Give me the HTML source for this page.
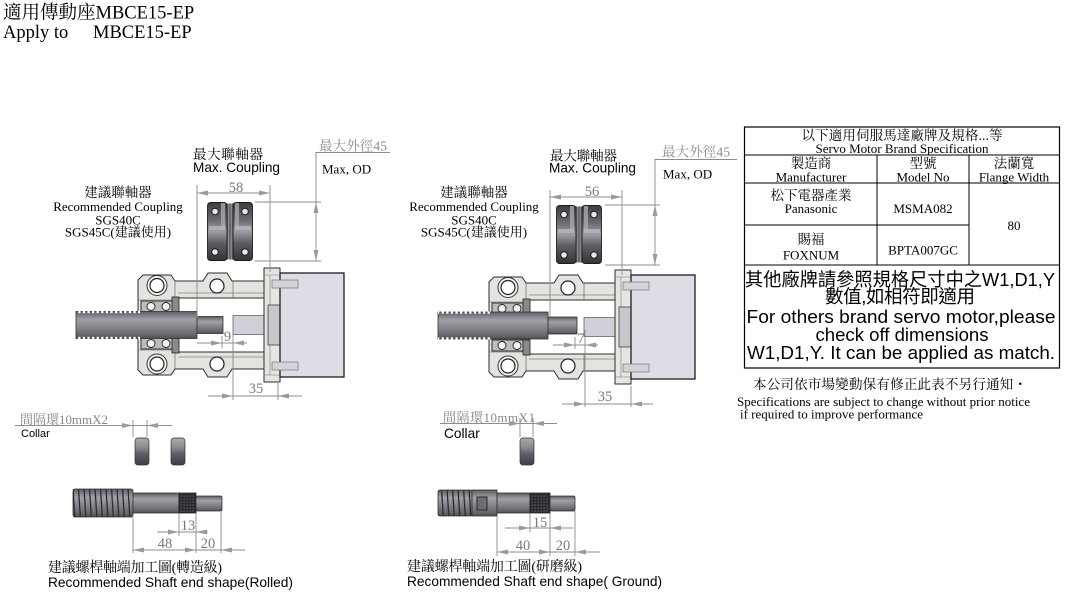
<!DOCTYPE html>
<html><head><meta charset="utf-8">
<style>
html,body{margin:0;padding:0;background:#fff;overflow:hidden}
svg{display:block}
.s{font-family:"Liberation Serif","Noto Serif CJK SC",serif}
.a{font-family:"Liberation Sans","Noto Sans CJK TC",sans-serif}
.d{font-family:"Liberation Serif",serif;fill:#7a7a7a;font-size:14.5px}
.dl{stroke:#8c8c8c;stroke-width:0.9;fill:none}
.ar{fill:#9a9a9a}
</style></head><body>
<svg width="1066" height="601" viewBox="0 0 1066 601" xmlns="http://www.w3.org/2000/svg">
<defs>
<linearGradient id="scr" x1="0" y1="0" x2="0" y2="1">
<stop offset="0" stop-color="#5e5e64"/><stop offset="0.3" stop-color="#a0a0a6"/><stop offset="0.55" stop-color="#88888e"/><stop offset="0.85" stop-color="#68686e"/><stop offset="1" stop-color="#4e4e53"/>
</linearGradient>
<linearGradient id="cpg" x1="0" y1="0" x2="0" y2="1">
<stop offset="0" stop-color="#3c3c41"/><stop offset="0.3" stop-color="#6a6a70"/><stop offset="0.5" stop-color="#9c9ca2"/><stop offset="0.7" stop-color="#5c5c62"/><stop offset="1" stop-color="#333338"/>
</linearGradient>
<linearGradient id="colg" x1="0" y1="0" x2="0" y2="1">
<stop offset="0" stop-color="#a9a9ae"/><stop offset="0.35" stop-color="#8a8a90"/><stop offset="0.6" stop-color="#5d5d63"/><stop offset="1" stop-color="#3f3f44"/>
</linearGradient>
<pattern id="notch" patternUnits="userSpaceOnUse" width="4.6" height="10"><rect x="0" y="0" width="2.3" height="10" fill="#fff"/></pattern>
<pattern id="thr" patternUnits="userSpaceOnUse" width="5.5" height="40"><path d="M1,0 L3.5,40" stroke="#2b2b30" stroke-width="1.3"/></pattern>
<pattern id="kn" patternUnits="userSpaceOnUse" width="3" height="3"><rect width="3" height="3" fill="#2a2a2e"/><rect x="0.5" y="0.5" width="1.2" height="1.2" fill="#6a6a70"/></pattern>

<g id="asm">
<path d="M138,280 L143,275 L171,275 L175,281 L203,281 L208,273 L227,273 L232,281 L264,281 L264,298 L178,298 L178,352 L264,352 L264,369 L232,369 L227,377 L208,377 L203,369 L175,369 L171,375 L143,375 L138,370 Z" fill="#e4e3df" stroke="#2e2e2e" stroke-width="1"/>
<path d="M175,281 V298 M175,352 V369 M233,281 V298 M233,352 V369 M178,293 H264 M178,357 H264 M138,300 H175 M138,350 H175" stroke="#555" stroke-width="0.6" fill="none"/>
<circle cx="157" cy="285.5" r="10" fill="#f4f4f2" stroke="#333" stroke-width="1"/>
<circle cx="157" cy="285.5" r="7" fill="#fff" stroke="#222" stroke-width="1.2"/>
<circle cx="217" cy="286" r="7" fill="#fff" stroke="#222" stroke-width="1.2"/>
<circle cx="157" cy="364" r="10" fill="#f4f4f2" stroke="#333" stroke-width="1"/>
<circle cx="157" cy="364" r="7" fill="#fff" stroke="#222" stroke-width="1.2"/>
<circle cx="217" cy="364" r="7" fill="#fff" stroke="#222" stroke-width="1.2"/>
<rect x="141" y="301" width="37" height="11" fill="#bdbdbd" stroke="#222" stroke-width="0.9"/>
<circle cx="151" cy="306.5" r="4" fill="#f2f2f2" stroke="#222" stroke-width="0.9"/>
<circle cx="166" cy="306.5" r="4" fill="#f2f2f2" stroke="#222" stroke-width="0.9"/>
<rect x="172" y="297" width="7" height="15" fill="#8a8a8a" stroke="#222" stroke-width="0.8"/>
<rect x="141" y="338" width="37" height="11" fill="#bdbdbd" stroke="#222" stroke-width="0.9"/>
<circle cx="151" cy="343.5" r="4" fill="#f2f2f2" stroke="#222" stroke-width="0.9"/>
<circle cx="166" cy="343.5" r="4" fill="#f2f2f2" stroke="#222" stroke-width="0.9"/>
<rect x="172" y="338" width="7" height="15" fill="#8a8a8a" stroke="#222" stroke-width="0.8"/>
<rect x="233" y="315.5" width="31" height="19" fill="#d0d1d8" stroke="#666" stroke-width="0.8"/>
<rect x="264" y="268" width="16" height="114" fill="#e6e5e2" stroke="#2e2e2e" stroke-width="1"/>
<path d="M270,275 V375 M264,275 H280 M264,375 H280" stroke="#777" stroke-width="0.6"/>
<rect x="268" y="305" width="12" height="40" fill="#c6c6cc" stroke="#444" stroke-width="0.8"/>
<rect x="280" y="273" width="64" height="104" fill="#dcdde5" stroke="#1e1e1e" stroke-width="1.3"/>
<rect x="272" y="280" width="26" height="8" fill="#d3d3d9" stroke="#777" stroke-width="0.7"/>
<rect x="272" y="362" width="26" height="8" fill="#d3d3d9" stroke="#777" stroke-width="0.7"/>
</g>

<g id="cp">
<rect x="0.5" y="0.5" width="19.5" height="58" rx="3" fill="url(#cpg)" stroke="#1e1e1e" stroke-width="0.9"/>
<rect x="26" y="0.5" width="19.5" height="58" rx="3" fill="url(#cpg)" stroke="#1e1e1e" stroke-width="0.9"/>
<rect x="20" y="1.5" width="6" height="56" fill="#4a4a50"/>
<path d="M21.5,1.5 V57.5 M23,1.5 V57.5 M24.5,1.5 V57.5" stroke="#b4b4ba" stroke-width="0.6"/>
<rect x="14" y="1" width="4" height="26" fill="#a8a8ae" opacity="0.8"/>
<rect x="2" y="24" width="16" height="4" fill="#b8b8be" opacity="0.8"/>
<rect x="28" y="1" width="4" height="26" fill="#a8a8ae" opacity="0.8"/>
<rect x="28" y="24" width="16" height="4" fill="#b8b8be" opacity="0.8"/>
<circle cx="8" cy="9.5" r="3.3" fill="#e8e8e8" stroke="#1a1a1a" stroke-width="1"/>
<circle cx="38" cy="9.5" r="3.3" fill="#e8e8e8" stroke="#1a1a1a" stroke-width="1"/>
<circle cx="8" cy="50" r="3.3" fill="#e8e8e8" stroke="#1a1a1a" stroke-width="1"/>
<circle cx="38" cy="50" r="3.3" fill="#e8e8e8" stroke="#1a1a1a" stroke-width="1"/>
</g>

<g id="col"><rect x="0" y="0" width="14" height="27" rx="3" fill="url(#colg)" stroke="#333" stroke-width="0.7"/></g>
</defs>

<!-- Title -->
<text class="s" x="3" y="18.5" font-size="18.5">適用傳動座MBCE15-EP</text>
<text class="s" x="3" y="38" font-size="18.5">Apply to</text>
<text class="s" x="93" y="38" font-size="18.5">MBCE15-EP</text>

<!-- ===== LEFT ASSEMBLY ===== -->
<use href="#asm"/>
<rect x="76" y="311.5" width="121" height="27" fill="url(#scr)" stroke="#333" stroke-width="0.8"/>
<rect x="76" y="311" width="64" height="2.2" fill="url(#notch)"/>
<rect x="76" y="336.8" width="64" height="2.2" fill="url(#notch)"/>
<rect x="197" y="316.5" width="26" height="17" fill="url(#scr)" stroke="#333" stroke-width="0.8"/>
<use href="#cp" x="207" y="202"/>

<text class="s" x="193" y="159" font-size="13.5" textLength="70">最大聯軸器</text>
<text class="a" x="193" y="172" font-size="14" textLength="87" lengthAdjust="spacingAndGlyphs">Max. Coupling</text>
<text class="s" x="319" y="150.5" font-size="13.5" fill="#8a8a8a" textLength="68">最大外徑45</text>
<text class="s" x="322" y="173.5" font-size="13">Max, OD</text>
<text class="s" x="118" y="197" font-size="13.5" text-anchor="middle">建議聯軸器</text>
<text class="s" x="118" y="211" font-size="13" text-anchor="middle">Recommended Coupling</text>
<text class="s" x="118" y="224.5" font-size="13" text-anchor="middle">SGS40C</text>
<text class="s" x="118" y="236.5" font-size="13" text-anchor="middle">SGS45C(建議使用)</text>

<!-- left dims -->
<path class="dl" d="M197,193 H270 M197,185 V318 M270,185 V272"/>
<polygon class="ar" points="197,193 208,190.5 208,195.5"/>
<polygon class="ar" points="270,193 259,190.5 259,195.5"/>
<text class="d" x="236" y="192" text-anchor="middle">58</text>
<path class="dl" d="M255,202 H321 M255,261 H321 M316,152 V261 M316,152.5 H390"/>
<polygon class="ar" points="316,202 313.5,213 318.5,213"/>
<polygon class="ar" points="316,261 313.5,250 318.5,250"/>
<path class="dl" d="M197,343 H247 M222,336 V348 M233,334 V400"/>
<polygon class="ar" points="222,343 211,340.5 211,345.5"/>
<polygon class="ar" points="233,343 244,340.5 244,345.5"/>
<text class="d" x="227.5" y="341" text-anchor="middle">9</text>
<path class="dl" d="M208,396 H302 M278,383 V400"/>
<polygon class="ar" points="233,396 222,393.5 222,398.5"/>
<polygon class="ar" points="278,396 289,393.5 289,398.5"/>
<text class="d" x="256" y="393" text-anchor="middle">35</text>

<!-- ===== RIGHT ASSEMBLY ===== -->
<use href="#asm" x="351" y="2"/>
<rect x="438" y="312" width="110" height="27" fill="url(#scr)" stroke="#333" stroke-width="0.8"/>
<rect x="438" y="311.5" width="52" height="2.2" fill="url(#notch)"/>
<rect x="438" y="337.3" width="52" height="2.2" fill="url(#notch)"/>
<rect x="548" y="317" width="29" height="17" fill="url(#scr)" stroke="#333" stroke-width="0.8"/>
<use href="#cp" x="556" y="205"/>

<text class="s" x="550" y="160.5" font-size="13.5" textLength="67">最大聯軸器</text>
<text class="a" x="549" y="172.5" font-size="14" textLength="87" lengthAdjust="spacingAndGlyphs">Max. Coupling</text>
<text class="s" x="662" y="156.5" font-size="13.5" fill="#8a8a8a" textLength="68">最大外徑45</text>
<text class="s" x="663" y="178.5" font-size="13">Max, OD</text>
<text class="s" x="474" y="197" font-size="13.5" text-anchor="middle">建議聯軸器</text>
<text class="s" x="474" y="211" font-size="13" text-anchor="middle">Recommended Coupling</text>
<text class="s" x="474" y="224.5" font-size="13" text-anchor="middle">SGS40C</text>
<text class="s" x="474" y="236.5" font-size="13" text-anchor="middle">SGS45C(建議使用)</text>

<!-- right dims -->
<path class="dl" d="M550,197 H622 M550,190 V316 M622,190 V275"/>
<polygon class="ar" points="550,197 561,194.5 561,199.5"/>
<polygon class="ar" points="622,197 611,194.5 611,199.5"/>
<text class="d" x="592" y="196" text-anchor="middle">56</text>
<path class="dl" d="M605,205 H660 M605,265 H660 M655,159 V265 M655,159.5 H737"/>
<polygon class="ar" points="655,205 652.5,216 657.5,216"/>
<polygon class="ar" points="655,265 652.5,254 657.5,254"/>
<path class="dl" d="M553,345 H598 M575,337 V349 M585,330 V407"/>
<polygon class="ar" points="575,345 564,342.5 564,347.5"/>
<polygon class="ar" points="585,345 596,342.5 596,347.5"/>
<text class="d" x="581" y="343" text-anchor="middle">7</text>
<path class="dl" d="M562,404 H653 M631,386 V407"/>
<polygon class="ar" points="585,404 574,401.5 574,406.5"/>
<polygon class="ar" points="631,404 642,401.5 642,406.5"/>
<text class="d" x="605" y="401" text-anchor="middle">35</text>

<!-- ===== BOTTOM LEFT ===== -->
<text class="s" x="20" y="424" font-size="13" fill="#888" textLength="88">間隔環10mmX2</text>
<path class="dl" d="M15,425.5 H172 M133,420 V437 M147,420 V437"/>
<polygon class="ar" points="133,425.5 122,423 122,428"/>
<polygon class="ar" points="147,425.5 158,423 158,428"/>
<text class="a" x="21" y="437" font-size="11">Collar</text>
<use href="#col" x="135" y="438"/>
<use href="#col" x="171" y="438"/>

<rect x="73" y="489" width="60" height="28" rx="2" fill="url(#scr)" stroke="#333" stroke-width="0.8"/>
<rect x="73" y="489" width="60" height="28" fill="url(#thr)"/>
<rect x="133" y="493" width="46" height="20" fill="url(#scr)" stroke="#333" stroke-width="0.8"/>
<rect x="179" y="493" width="17" height="20" fill="url(#kn)" stroke="#222" stroke-width="0.8"/>
<rect x="196" y="496" width="26" height="15" rx="1.5" fill="url(#scr)" stroke="#333" stroke-width="0.8"/>

<path class="dl" d="M133,517 V553 M179,513 V536 M196,513 V553 M221,511 V553 M157,532 H208 M133,550 H245"/>
<polygon class="ar" points="179,532 168,529.5 168,534.5"/>
<polygon class="ar" points="196,532 207,529.5 207,534.5"/>
<text class="d" x="188" y="530" text-anchor="middle">13</text>
<polygon class="ar" points="133,550 144,547.5 144,552.5"/>
<polygon class="ar" points="196,550 185,547.5 185,552.5"/>
<polygon class="ar" points="221,550 232,547.5 232,552.5"/>
<text class="d" x="165" y="548" text-anchor="middle">48</text>
<text class="d" x="208" y="548" text-anchor="middle">20</text>

<text class="s" x="48" y="572" font-size="14" textLength="174">建議螺桿軸端加工圖(轉造級)</text>
<text class="a" x="48" y="587" font-size="13.7" textLength="245" lengthAdjust="spacingAndGlyphs">Recommended Shaft end shape(Rolled)</text>

<!-- ===== BOTTOM RIGHT ===== -->
<text class="s" x="443" y="422" font-size="13" fill="#888" textLength="92">間隔環10mmX1</text>
<path class="dl" d="M440,423.5 H557 M520,418 V437 M533,418 V437"/>
<polygon class="ar" points="520,423.5 509,421 509,426"/>
<polygon class="ar" points="533,423.5 544,421 544,426"/>
<text class="a" x="444" y="438" font-size="13.7">Collar</text>
<use href="#col" x="520" y="438"/>

<rect x="438" y="490" width="34" height="26" rx="2" fill="url(#scr)" stroke="#333" stroke-width="0.8"/>
<rect x="438" y="490" width="34" height="26" fill="url(#thr)"/>
<rect x="472" y="490" width="25" height="26" fill="url(#scr)" stroke="#333" stroke-width="0.8"/>
<rect x="477" y="497" width="10" height="13" fill="#6e6e74" stroke="#222" stroke-width="0.9"/>
<rect x="497" y="493" width="33" height="20" fill="url(#scr)" stroke="#333" stroke-width="0.8"/>
<rect x="530" y="493" width="20" height="20" fill="url(#kn)" stroke="#222" stroke-width="0.8"/>
<rect x="550" y="496" width="25" height="15" rx="1.5" fill="url(#scr)" stroke="#333" stroke-width="0.8"/>

<path class="dl" d="M497,516 V556 M530,513 V532 M550,513 V556 M575,511 V556 M505,528 H573 M497,552 H600"/>
<polygon class="ar" points="530,528 519,525.5 519,530.5"/>
<polygon class="ar" points="550,528 561,525.5 561,530.5"/>
<text class="d" x="540" y="527" text-anchor="middle">15</text>
<polygon class="ar" points="497,552 508,549.5 508,554.5"/>
<polygon class="ar" points="550,552 539,549.5 539,554.5"/>
<polygon class="ar" points="575,552 586,549.5 586,554.5"/>
<text class="d" x="523" y="550" text-anchor="middle">40</text>
<text class="d" x="563" y="550" text-anchor="middle">20</text>

<text class="s" x="407" y="571" font-size="14" textLength="175">建議螺桿軸端加工圖(研磨級)</text>
<text class="a" x="407" y="586" font-size="13.7" textLength="255" lengthAdjust="spacingAndGlyphs">Recommended Shaft end shape( Ground)</text>

<!-- ===== TABLE ===== -->
<rect x="744.5" y="127" width="315" height="241" fill="none" stroke="#000" stroke-width="1.2"/>
<path d="M744.5,155 H1059.5 M744.5,183 H1059.5 M744.5,225 H969 M744.5,265 H1059.5 M877,155 V265 M969,155 V265" stroke="#000" stroke-width="1" fill="none"/>
<text class="s" x="902" y="140" font-size="13.5" text-anchor="middle" textLength="201">以下適用伺服馬達廠牌及規格...等</text>
<text class="s" x="902" y="153" font-size="13" text-anchor="middle">Servo Motor Brand Specification</text>
<text class="s" x="811" y="168" font-size="13.5" text-anchor="middle">製造商</text>
<text class="s" x="811" y="181.5" font-size="13" text-anchor="middle">Manufacturer</text>
<text class="s" x="923" y="168" font-size="13.5" text-anchor="middle">型號</text>
<text class="s" x="923" y="181.5" font-size="13" text-anchor="middle">Model No</text>
<text class="s" x="1014" y="168" font-size="13.5" text-anchor="middle">法蘭寬</text>
<text class="s" x="1014" y="181.5" font-size="13" text-anchor="middle">Flange Width</text>
<text class="s" x="811" y="200" font-size="13.5" text-anchor="middle">松下電器產業</text>
<text class="s" x="811" y="213" font-size="13" text-anchor="middle">Panasonic</text>
<text class="s" x="923" y="213" font-size="13" text-anchor="middle">MSMA082</text>
<text class="s" x="1014" y="230" font-size="13" text-anchor="middle">80</text>
<text class="s" x="811" y="244" font-size="13.5" text-anchor="middle">賜福</text>
<text class="s" x="811" y="259.5" font-size="13" text-anchor="middle">FOXNUM</text>
<text class="s" x="923" y="254.5" font-size="13" text-anchor="middle">BPTA007GC</text>

<text class="a" x="745" y="286" font-size="18.5" textLength="310" lengthAdjust="spacingAndGlyphs">其他廠牌請參照規格尺寸中之W1,D1,Y</text>
<text class="a" x="900" y="303" font-size="18.5" text-anchor="middle" textLength="150">數值,如相符即適用</text>
<text class="a" x="901" y="323" font-size="18.8" text-anchor="middle" textLength="309" lengthAdjust="spacingAndGlyphs">For others brand servo motor,please</text>
<text class="a" x="902" y="341" font-size="18.8" text-anchor="middle" textLength="173" lengthAdjust="spacingAndGlyphs">check off dimensions</text>
<text class="a" x="901" y="359" font-size="18.8" text-anchor="middle" textLength="308" lengthAdjust="spacingAndGlyphs">W1,D1,Y. It can be applied as match.</text>

<!-- notes -->
<text class="s" x="753" y="389" font-size="13.5" textLength="274">本公司依市場變動保有修正此表不另行通知・</text>
<text class="s" x="737" y="406" font-size="13" textLength="293" lengthAdjust="spacingAndGlyphs">Specifications are subject to change without prior notice</text>
<text class="s" x="740" y="418.5" font-size="13" textLength="183" lengthAdjust="spacingAndGlyphs">if required to improve performance</text>
</svg>
</body></html>
